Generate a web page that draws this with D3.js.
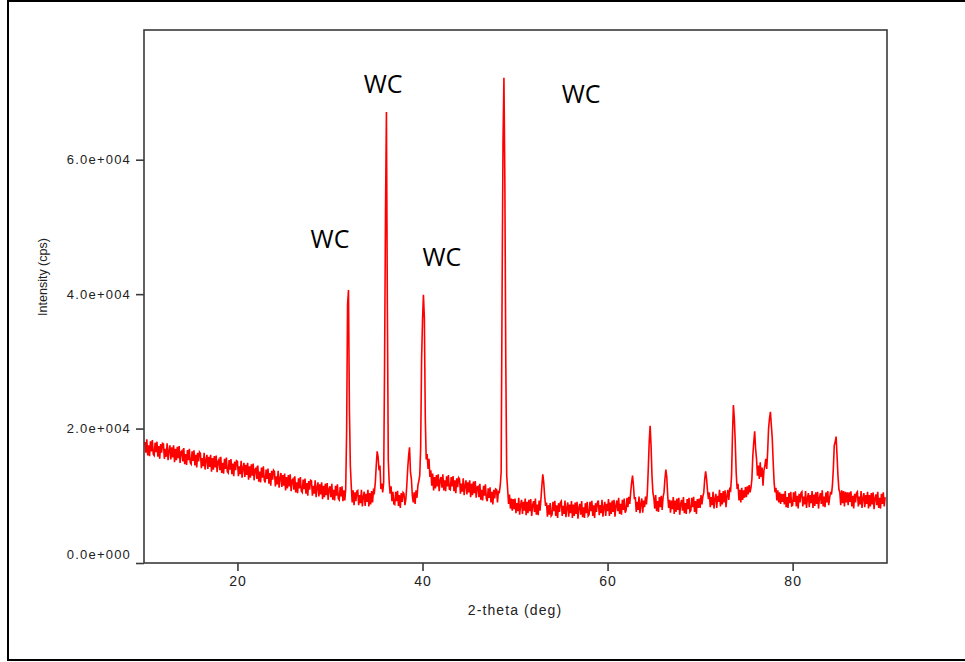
<!DOCTYPE html>
<html>
<head>
<meta charset="utf-8">
<script src="https://cdn.jsdelivr.net/npm/d3@7"></script>
<style>
  html, body { margin: 0; padding: 0; background: #fff; }
  svg { display: block; }
</style>
</head>
<body>
<div id="chart-container"></div>
<script>
// scan grid (deg 2-theta)
const scanStart = 10;
const scanStep = 0.1;

// intensity (cps), one row per degree
const intensity = [
  18000, 16400, 18400, 16000, 17500, 15900, 18100, 16600, 18300, 16200, // 10
  16000, 17900, 16500, 18050, 15800, 17400, 15500, 17700, 16400, 17800, // 11
  17700, 15500, 17000, 15800, 17800, 15300, 16700, 17500, 15400, 17200, // 12
  15700, 17500, 15000, 17000, 15300, 17300, 15600, 17400, 14900, 16500, // 13
  16700, 15100, 17100, 14700, 16200, 14600, 16800, 15300, 17000, 14900, // 14
  14700, 16600, 15200, 16750, 14500, 16100, 14200, 16400, 15100, 16500, // 15
  16300, 14100, 15600, 14400, 16400, 13900, 15300, 16100, 14000, 15800, // 16
  14300, 16100, 13600, 15600, 13900, 15900, 14200, 16000, 13500, 15100, // 17
  15400, 13800, 15800, 13400, 14900, 13300, 15500, 14000, 15700, 13600, // 18
  13400, 15300, 13900, 15450, 13200, 14800, 12900, 15100, 13800, 15200, // 19
  15100, 12900, 14400, 13200, 15200, 12700, 14100, 14900, 12800, 14600, // 20
  13100, 14900, 12400, 14400, 12700, 14700, 13000, 14800, 12300, 13900, // 21
  14100, 12500, 14500, 12100, 13600, 12000, 14200, 12700, 14400, 12300, // 22
  12000, 13900, 12500, 14050, 11800, 13400, 11500, 13700, 12400, 13800, // 23
  13600, 11400, 12900, 11700, 13700, 11200, 12600, 13400, 11300, 13100, // 24
  11500, 13300, 10800, 12800, 11100, 13100, 11400, 13200, 10700, 12300, // 25
  12500, 10900, 12900, 10500, 12000, 10400, 12600, 11100, 12800, 10700, // 26
  10500, 12400, 11000, 12550, 10300, 11900, 10000, 12200, 10900, 12300, // 27
  12200, 10000, 11500, 10300, 12300, 9800, 11200, 12000, 9900, 11700,   // 28
  10200, 12000, 9500, 11500, 9800, 11800, 10100, 11900, 9400, 11000,    // 29
  11400, 9800, 11800, 9400, 10900, 9300, 11500, 10000, 11700, 9600,     // 30
  9400, 11300, 9900, 11400, 9200, 10800, 9300, 11000, 19600, 38400,     // 31
  40600, 22800, 14500, 11500, 9000, 10800, 8600, 10500, 9200, 10700,    // 32
  10800, 8600, 10100, 8900, 10900, 8400, 9800, 10600, 8500, 10300,      // 33
  9100, 10900, 8400, 10400, 8700, 10700, 9000, 10800, 10500, 12000,     // 34
  14500, 16600, 15800, 13800, 14500, 11000, 11800, 10500, 12000, 29500, // 35
  52000, 67100, 38400, 15400, 12000, 10300, 11400, 9200, 10600, 8800,   // 36
  8700, 10600, 9200, 10750, 8500, 10100, 8200, 10400, 9100, 10500,      // 37
  10300, 8600, 9500, 11500, 14000, 16000, 17200, 13500, 12500, 10000,   // 38
  9000, 10500, 8800, 10800, 9700, 11500, 12200, 13000, 17000, 30200,    // 39
  36000, 39900, 36500, 21600, 15400, 16200, 14000, 15500, 12800, 13800, // 40
  11500, 13300, 10800, 12800, 11100, 13100, 11400, 13200, 10700, 12300, // 41
  12800, 11200, 13200, 10800, 12300, 10700, 12900, 11400, 13100, 11000, // 42
  10900, 12800, 11400, 12950, 10700, 12300, 10400, 12600, 11300, 12700, // 43
  12500, 10300, 11800, 10600, 12600, 10100, 11500, 12300, 10200, 12000, // 44
  10500, 12300, 9800, 11800, 10100, 12100, 10400, 12200, 9700, 11300,   // 45
  11400, 9800, 11800, 9400, 10900, 9300, 11500, 10000, 11700, 9600,     // 46
  9200, 11100, 9700, 11250, 9000, 10600, 8700, 10900, 9600, 11000,      // 47
  10900, 9000, 10600, 10500, 11500, 13500, 40000, 62500, 72200, 56600,  // 48
  30000, 13000, 11000, 8800, 10200, 8100, 9600, 7800, 9500, 8000,       // 49
  9600, 7400, 8900, 7700, 9700, 7200, 8600, 9400, 7300, 9100,           // 50
  7800, 9600, 7100, 9100, 7400, 9400, 7700, 9500, 7000, 8600,           // 51
  9200, 7600, 9600, 7200, 8700, 7100, 9300, 7800, 9500, 11500,          // 52
  13200, 12000, 10000, 8500, 9000, 6900, 8600, 7200, 8900, 7000,        // 53
  7200, 9100, 7700, 9250, 7000, 8600, 6700, 8900, 7600, 9000,           // 54
  9200, 7000, 8500, 7300, 9300, 6800, 8200, 9000, 6900, 8700,           // 55
  7400, 9200, 6700, 8700, 7000, 9000, 7300, 9100, 6600, 8200,           // 56
  8800, 7200, 9200, 6800, 8300, 6700, 8900, 7400, 9100, 7000,           // 57
  7200, 9100, 7700, 9250, 7000, 8600, 6700, 8900, 7600, 9000,           // 58
  9300, 7100, 8600, 7400, 9400, 6900, 8300, 9100, 7000, 8800,           // 59
  7700, 9500, 7000, 9000, 7300, 9300, 7600, 9400, 6900, 8500,           // 60
  9300, 7700, 9700, 7300, 8800, 7200, 9400, 7900, 9600, 7500,           // 61
  7800, 9700, 8300, 9850, 8800, 10500, 12000, 13000, 11500, 9500,       // 62
  9800, 7600, 9100, 7900, 9900, 7400, 8800, 9600, 7500, 9300,           // 63
  8300, 9900, 8700, 10500, 14000, 18000, 20400, 17500, 13000, 10500,    // 64
  9700, 8100, 10100, 7700, 9200, 7600, 9800, 8300, 10000, 7900,         // 65
  9800, 10500, 12500, 13900, 12800, 10000, 8200, 9400, 7500, 9300,      // 66
  8000, 9800, 7300, 9300, 7600, 9600, 7900, 9700, 7200, 8800,           // 67
  9400, 7800, 9800, 7400, 8900, 7300, 9500, 8000, 9700, 7600,           // 68
  7800, 9700, 8300, 9850, 7600, 9200, 7300, 9500, 8200, 9600,           // 69
  8200, 10100, 8700, 9900, 10500, 12500, 13650, 12500, 10800, 9500,     // 70
  10500, 8300, 9800, 8600, 10600, 8100, 9500, 10300, 8200, 10000,       // 71
  9100, 10900, 8400, 10400, 8700, 10700, 9000, 10800, 8300, 9900,       // 72
  10900, 9400, 11000, 10800, 13000, 19000, 23500, 21500, 18000, 13500,  // 73
  11000, 11800, 9300, 10900, 9000, 11200, 9400, 10800, 9700, 11300,     // 74
  9800, 11400, 10200, 11600, 10500, 11200, 12500, 16000, 18000, 19600,  // 75
  17000, 15500, 13000, 14500, 12500, 15000, 12800, 14200, 11500, 13800, // 76
  14500, 15500, 14000, 16500, 20000, 21500, 22500, 20500, 18500, 15000, // 77
  12000, 10500, 11200, 9300, 10800, 9000, 10500, 8800, 10300, 9100,     // 78
  10300, 8700, 10700, 8300, 9800, 8200, 10400, 8900, 10600, 8500,       // 79
  8600, 10500, 9100, 10650, 8400, 10000, 8100, 10300, 9000, 10400,      // 80
  10600, 8400, 9900, 8700, 10700, 8200, 9600, 10400, 8300, 10100,       // 81
  8900, 10700, 8200, 10200, 8500, 10500, 8800, 10600, 8100, 9700,       // 82
  10400, 8800, 10800, 8400, 9900, 8300, 10500, 9000, 10700, 8600,       // 83
  9700, 10600, 10200, 11500, 14000, 17500, 18000, 18800, 16000, 13000,  // 84
  11000, 10500, 8600, 10800, 8900, 10700, 8400, 10600, 9000, 10500,     // 85
  8600, 10500, 9100, 10650, 8400, 10000, 8100, 10300, 9000, 10400,      // 86
  10600, 8400, 9900, 8700, 10700, 8200, 9600, 10400, 8300, 10100,       // 87
  8800, 10600, 8100, 10100, 8400, 10400, 8700, 10500, 8000, 9600,       // 88
  10200, 8600, 10600, 8200, 9700, 8100, 10300, 8800, 10500, 8400,       // 89
  9800                                                                  // 90
];

const xTicks = [20, 40, 60, 80];
const yTicks = [0, 20000, 40000, 60000];

// phase labels
const labelText = ["WC", "WC", "WC", "WC"];
const labelTheta = [35.75, 57.15, 30.0, 42.1];
const labelCps = [69900, 68400, 46900, 44200];

const width = 965, height = 662;
const plot = { left: 144, right: 887, top: 30, bottom: 563 };

const svg = d3.select("#chart-container")
  .append("svg")
  .attr("width", width)
  .attr("height", height);

// outer frame (right side runs off the page)
svg.append("rect")
  .attr("x", 8)
  .attr("y", 1)
  .attr("width", 1000)
  .attr("height", 659)
  .attr("fill", "none")
  .attr("stroke", "#000")
  .attr("stroke-width", 2);

const x = d3.scaleLinear().domain([9.9, 90.2]).range([plot.left, plot.right]);
const y = d3.scaleLinear().domain([0, 79300]).range([plot.bottom, plot.top]);

const points = intensity.map((v, i) => ({ t: scanStart + i * scanStep, v: v }));

const line = d3.line()
  .x(d => x(d.t))
  .y(d => y(d.v));

svg.append("path")
  .datum(points)
  .attr("d", line)
  .attr("fill", "none")
  .attr("stroke", "#ff0000")
  .attr("stroke-width", 1.6);

// plot box
svg.append("rect")
  .attr("x", plot.left)
  .attr("y", plot.top)
  .attr("width", plot.right - plot.left)
  .attr("height", plot.bottom - plot.top)
  .attr("fill", "none")
  .attr("stroke", "#3a3a3a")
  .attr("stroke-width", 1.6);

const tickFont = "'Liberation Sans', Arial, sans-serif";

const xAxis = svg.append("g")
  .attr("transform", `translate(0,${plot.bottom})`)
  .call(d3.axisBottom(x).tickValues(xTicks).tickSize(8).tickPadding(5).tickFormat(d3.format("d")));
xAxis.select(".domain").remove();
xAxis.selectAll(".tick line").attr("stroke", "#3a3a3a").attr("stroke-width", 1.6);
xAxis.selectAll(".tick text")
  .attr("fill", "#222")
  .style("font-family", tickFont)
  .style("font-size", "14px")
  .style("letter-spacing", "1px");

const yAxis = svg.append("g")
  .attr("transform", `translate(${plot.left},0)`)
  .call(d3.axisLeft(y).tickValues(yTicks).tickSize(8).tickPadding(5)
    .tickFormat(d => d3.format(".1e")(d).replace(/e([+-])(\d+)/, (m, s, n) => "e" + s + n.padStart(3, "0"))));
yAxis.select(".domain").remove();
yAxis.selectAll(".tick line").attr("stroke", "#3a3a3a").attr("stroke-width", 1.6);
yAxis.selectAll(".tick text")
  .attr("fill", "#222")
  .attr("dy", d => d === 0 ? "-0.35em" : "0.32em")
  .style("font-family", tickFont)
  .style("font-size", "13px")
  .style("letter-spacing", "1.2px");

svg.append("text")
  .attr("x", 515)
  .attr("y", 615)
  .attr("text-anchor", "middle")
  .attr("fill", "#222")
  .style("font-family", tickFont)
  .style("font-size", "14px")
  .style("letter-spacing", "1.1px")
  .text("2-theta (deg)");

svg.append("text")
  .attr("transform", "translate(47,277) rotate(-90)")
  .attr("text-anchor", "middle")
  .attr("fill", "#222")
  .style("font-family", tickFont)
  .style("font-size", "12.5px")
  .text("Intensity (cps)");

svg.selectAll(".phase")
  .data(labelText)
  .enter()
  .append("text")
  .attr("class", "phase")
  .attr("x", (d, i) => x(labelTheta[i]))
  .attr("y", (d, i) => y(labelCps[i]))
  .attr("text-anchor", "middle")
  .attr("fill", "#000")
  .style("font-family", "'Open Sans', 'Noto Sans', sans-serif")
  .style("font-size", "25px")
  .text(d => d);
</script>
</body>
</html>
